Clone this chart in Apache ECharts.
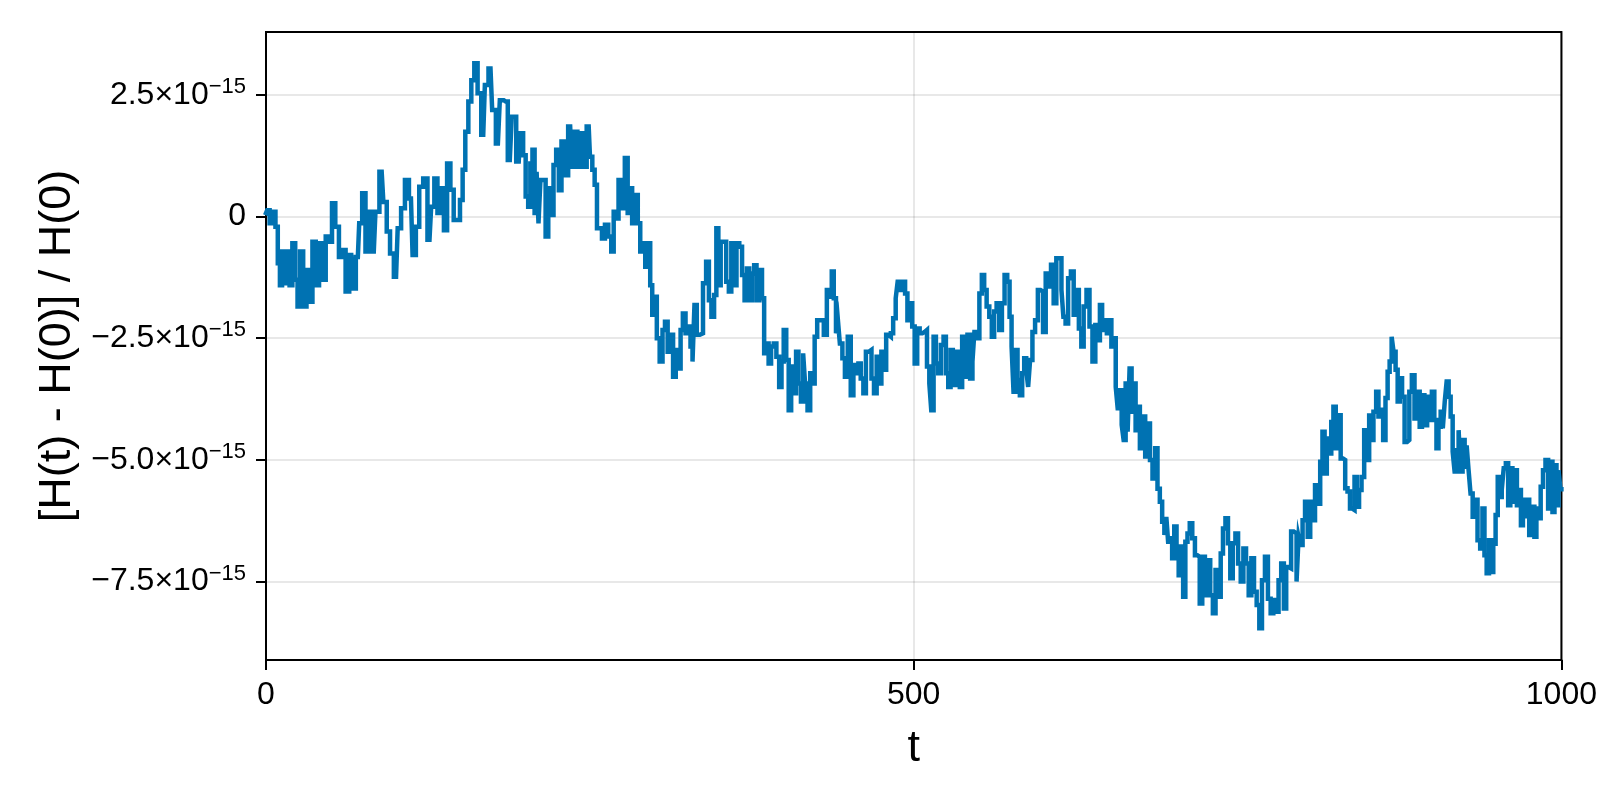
<!DOCTYPE html>
<html>
<head>
<meta charset="utf-8">
<title>Relative energy error</title>
<script src="https://cdn.jsdelivr.net/npm/echarts@6/dist/echarts.min.js"></script>
<style>
  html, body { margin: 0; padding: 0; background: #fff; }
  #chart { width: 1600px; height: 800px; }
</style>
</head>
<body>
<div id="chart"></div>
<script>
// time axis samples
const tValues = [
  0, 1.8, 3.8, 6.4, 8.2, 10, 11.5, 13.3, 15.1, 17.2, 19.2, 21.5, 23.6, 25.1, 27.4, 30, 32.5, 34.6, 37.1, 39.7,
  42.2, 44.8, 47.4, 49.9, 52, 55, 57.6, 60.2, 62.7, 65.8, 67.8, 70.9, 73, 75.5, 78.1, 80.1, 83.2, 85.8, 89.3, 91.9,
  94.5, 97, 100.4, 102.9, 105.7, 108.8, 111.9, 114.4, 117, 119.6, 123.1, 126.2, 128.8, 131.1, 133.6, 136.2, 138.5, 141.1, 143.6, 146.2,
  148.7, 150.8, 152.8, 154.9, 157.5, 159.5, 162.1, 164.6, 167.7, 170.2, 173.3, 175.9, 179, 182, 185.1, 188.2, 191.2, 195.1, 197.6,
  199.4, 201.5, 203.3, 204.8, 206.6, 208.1, 209.7, 211, 212.7, 214.8, 216.9, 218.9, 220.9, 223, 225, 227.1, 229.1, 231.7, 234.8, 237.3,
  239.4, 241.4, 243.7, 246, 249.1, 251.1, 252.7, 254.7, 256.3, 258.3, 260.4, 262.9, 265.5, 267.5, 269.3, 271.1, 273.2, 275.7, 278.3, 280.1,
  281.9, 283.4, 286, 288, 289.8, 291.9, 293.6, 295.7, 297.5, 298.8, 300.8, 302.6, 305.2, 307, 309, 311.1, 313.1, 315.4, 317.2, 319.3,
  320.8, 322.8, 324.9, 326.9, 328.5, 330, 331.5, 333.6, 336.2, 338.5, 341, 342.8, 344.9, 346.9, 348.4, 350, 352, 354.1, 356.4, 358.2,
  360.2, 362.3, 364.1, 366.6, 368.4, 370.5, 372, 374.1, 376.1, 377.6, 379.7, 382, 383.8, 385.3, 387.1, 388.9, 390.9, 393, 395, 397.3,
  398.6, 400.7, 402.5, 404.5, 406.3, 408.3, 410.1, 411.9, 414, 415.3, 417, 419.1, 421.1, 422.9, 424.2, 426.8, 429.3, 431.9, 434, 436,
  437.5, 439.1, 440.9, 442.1, 443.9, 446, 447.8, 450.4, 452.4, 454.5, 456.5, 458.1, 460.1, 462.2, 464, 466.5, 468.3, 470.4, 472.4, 474.2,
  475.9, 478, 479.5, 481.6, 483.1, 485.2, 487, 488.2, 490.3, 492.3, 494.4, 495.9, 498, 499.7, 501.8, 503.6, 505.6, 507.7, 509.2, 511.3,
  512.8, 514.3, 516.4, 517.9, 520, 522, 524.1, 525.6, 527.7, 529.2, 531.2, 533.3, 534.8, 536.4, 538.4, 540.5, 542.5, 544.6, 546.1, 547.6,
  549.7, 551.7, 553.5, 555.3, 557.3, 559.4, 561.2, 563, 565, 567.1, 569.1, 571.2, 573.2, 574.8, 576.3, 577.8, 579.4, 580.9, 583, 584.5,
  586.1, 587.6, 589.1, 590.6, 592.7, 594.7, 597,
  598.8, 600.9, 602.9, 605, 607, 609.1, 611.1, 613.2, 614.9, 616.2, 618.3, 620.1, 622.6, 624.4, 626.5, 628.5, 630.3, 632.1, 634.7, 636.7,
  639.3, 641.1, 643.1, 644.4, 646.5, 648.2, 650, 651.6, 653.6, 655.2, 656.7, 658.2, 659.8, 661.3, 662.8, 664.4, 665.9, 667.4, 669, 670.5,
  672.1, 673.6, 675.6, 677.7, 679.7, 681.5, 683.3, 685.4, 687.4, 689, 691, 692.6, 694.4, 695.6, 697.2, 698.7, 700.3, 702, 703.8, 705.3,
  707.1, 708.9, 710.5, 712.2, 714, 716.1, 718.1, 719.9, 721.7, 723.8, 725.8, 727.9, 729.9, 732, 734, 736.1, 737.9, 739.6, 741.7, 743.5,
  745.3, 747.3, 749.4, 751.4, 753.5, 755.5, 757.6, 759.6, 761.7, 763.7, 765.8, 767.8, 769.9, 772.4, 774.5, 776.6, 778.6, 780.6, 782.7, 784.7,
  786.8, 788.3, 790.3, 792.4, 794.4, 796.7,
  797.5, 799.3, 801.1, 803.1, 805.2, 807, 808.8, 810.8, 812.9, 814.7, 816.4, 818, 819.8, 821.6, 823.1, 824.9, 826.7, 828.7, 830.5, 832.3,
  833.9, 835.9, 837.7, 839.5, 841.1, 842.9, 844.7, 846.7, 848.8, 850.8, 852.4, 853.8, 856, 858, 859.5, 861.5, 863.3, 865.1, 866.6, 868.2,
  869.7, 871.2, 872.8, 874.4, 876.1, 877.9, 880, 881.7, 883.5, 885.6, 887.6, 889.7, 891.5, 893.2, 895.3, 897.4, 899.1, 900.9, 902.9, 904.2,
  906, 907.6, 909.3, 910.6, 912.2, 913.7, 915.3, 916.8, 918.3, 919.9, 921.4, 922.9, 924.5, 926.1, 927.6, 929.1, 930.6, 932.4, 934.2, 936.3,
  938.3, 939.8, 941.4, 943.2, 945, 946.5, 948.3, 950.1, 951.6, 953.2, 954.7, 956.2, 958, 959.8, 961.3, 963.1, 964.9, 966.4, 968, 969.5,
  971.1, 972.6, 974.1, 976.2, 978.5, 979.8, 981.6, 983.1, 984.9, 986.7, 988.7, 990.8, 992.3, 993.9, 995.4, 997, 998.5, 1000
];

// [H(t) - H(0)] / H(0), in units of 1e-15
const hRel = [
  0.07, 0.13, -0.14, 0.10, -0.21, -0.96, -1.41, -0.72, -1.37, -0.72, -1.41, -0.55, -1.30, -1.85, -0.72, -1.85, -1.10, -1.75, -0.52, -1.41,
  -0.55, -1.30, -0.41, -0.52, 0.27, -0.21, -0.83, -0.69, -1.54, -0.79, -1.48, -0.83, -0.14, 0.48, -0.72, 0.10, -0.72, 0.10, 0.92, 0.30,
  -0.31, -0.76, -1.24, -0.24, 0.17, 0.75, 0.37, -0.79, -0.21, 0.61, 0.78, -0.48, 0.20, 0.78, 0.07, 0.58, -0.28, 1.09, 0.55, -0.07,
  -0.07, 0.34, 0.96, 1.74, 2.36, 2.80, 3.15, 2.53, 1.68, 2.70, 3.04, 2.19, 1.50, 2.39, 2.36, 1.16, 2.05, 1.13, 1.71,
  1.26, 0.41, 0.20, 1.09, 1.37, 0.07, 0.92, -0.14, 0.75, 0.75, -0.41, 0.58, 0.03, 1.06, 1.37, 0.54, 1.54, 0.85, 1.85, 1.02,
  1.74, 1.02, 1.71, 1.02, 1.85, 1.23, 0.96, 0.65, -0.24, -0.24, -0.45, -0.17, -0.41, -0.72, 0.10, -0.04, 0.75, 0.17, 1.20, 0.07,
  0.58, -0.14, 0.44, -0.14, -0.72, -0.55, -1.03, -0.55, -1.41, -2.02, -1.65, -2.50, -2.98, -2.33, -2.16, -2.78, -2.43, -3.29, -2.74, -3.12,
  -2.33, -1.99, -2.40, -2.26, -2.67, -2.98, -1.82, -2.43, -2.40, -1.37, -0.93, -1.72, -2.06, -1.61, -0.24, -1.41, -0.52, -0.52, -1.34, -1.54,
  -0.55, -1.41, -0.55, -0.62, -1.20, -1.72, -1.07, -1.72, -1.17, -1.00, -1.72, -1.10, -1.68, -2.81, -2.61, -3.02, -2.67, -2.61, -2.88, -3.50,
  -2.98, -2.33, -2.95, -3.98, -3.08, -3.63, -2.78, -3.43, -3.80, -2.81, -3.43, -3.98, -3.22, -3.43, -2.47, -2.13, -2.13, -2.43, -1.51, -1.65,
  -1.13, -1.68, -2.40, -2.13, -2.61, -2.91, -3.29, -2.47, -3.67, -3.05, -3.22, -3.02, -3.33, -3.63, -2.78, -2.74, -3.33, -3.63, -2.88, -3.43,
  -2.78, -3.15, -2.43, -2.47, -2.40, -2.09, -1.68, -1.34, -1.51, -1.34, -1.58, -2.13, -1.78, -2.26, -3.02, -2.30, -2.40, -2.37, -2.33, -3.08,
  -3.43, -3.98, -2.47, -3.02, -3.22, -2.64, -2.47, -3.22, -3.50, -2.74, -3.46, -2.78, -3.29, -3.50, -2.47, -3.29, -2.43, -3.33, -2.98, -2.37,
  -2.50, -1.58, -1.20, -1.51, -1.85, -2.06, -2.47, -1.95, -1.78, -2.33, -1.78, -1.20, -1.34, -2.06, -2.67, -3.60, -2.74, -3.36, -3.67, -3.22,
  -2.91, -3.15, -3.50, -2.95, -2.37, -2.13, -1.51,
  -1.54, -2.37, -1.17, -1.44, -0.99, -1.78, -0.86, -0.86, -1.51, -2.06, -2.20, -1.27, -1.13, -2.02, -1.51, -2.30, -2.67, -1.85, -1.51, -2.26,
  -2.98, -2.23, -2.54, -1.82, -2.33, -2.13, -2.40, -2.13, -2.67, -2.50, -3.50, -3.94, -3.57, -4.28, -4.59, -3.43, -4.42, -3.12, -4.01, -3.43,
  -4.39, -3.91, -4.76, -4.11, -4.93, -4.25, -5.00, -5.38, -4.76, -5.59, -5.86, -6.27, -6.54, -6.17, -6.68, -6.61, -7.02, -6.37, -6.96, -7.37,
  -6.78, -7.81, -6.68, -6.51, -6.30, -6.61, -6.96, -6.99, -7.95, -6.99, -7.78, -7.06, -7.78, -8.15, -7.26, -7.81, -6.92, -6.41, -6.20, -6.71,
  -7.43, -6.71, -6.51, -7.13, -7.50, -6.82, -7.13, -7.78, -7.02, -7.71, -7.98, -8.46, -7.47, -6.99, -7.85, -8.15, -7.88, -8.12, -7.47, -7.13,
  -8.05, -7.20, -7.23, -6.47, -6.51, -7.50,
  -6.58, -6.75, -6.24, -5.86, -6.58, -5.86, -6.24, -5.52, -5.90, -5.04, -4.42, -5.28, -4.56, -4.87, -4.22, -3.91, -4.76, -4.08, -4.97, -5.00,
  -5.58, -5.65, -6.00, -6.03, -5.35, -5.96, -5.62, -5.35, -4.39, -5.00, -4.04, -4.59, -4.01, -3.60, -4.11, -3.97, -4.59, -3.73, -3.19, -2.98,
  -2.47, -2.78, -3.15, -3.80, -3.32, -3.70, -4.63, -4.59, -3.60, -3.26, -4.15, -3.60, -4.32, -3.67, -4.29, -3.70, -4.18, -3.60, -4.18, -4.76,
  -4.32, -4.01, -4.35, -3.80, -3.39, -3.70, -4.11, -4.83, -5.24, -4.80, -4.39, -5.24, -4.59, -5.14, -4.70, -5.21, -5.69, -6.17, -5.82, -6.65,
  -6.82, -6.00, -6.96, -7.33, -6.65, -7.30, -6.72, -6.13, -5.35, -5.76, -5.62, -5.17, -5.07, -5.93, -5.17, -5.86, -5.21, -5.93, -5.62, -6.34,
  -5.82, -6.20, -5.82, -6.54, -5.96, -6.58, -6.00, -6.20, -5.55, -5.21, -5.00, -6.00, -5.04, -6.07, -5.11, -5.93, -5.21, -5.60
];

const xTicks = [0, 500, 1000];
const yTicks = [-7.5, -5, -2.5, 0, 2.5];
const xRange = [0, 1000];
const yRange = [-9.11, 3.79];

const FONT = "'Liberation Sans', Arial, sans-serif";
const LINE_COLOR = "#0072b2";
const GRID_COLOR = "rgba(0,0,0,0.12)";

function yTickLabel(value) {
  if (Math.abs(value) < 1e-9) return "{m|0}";
  const sign = value < 0 ? "\u2212" : "";
  return `{m|${sign}${Math.abs(value).toFixed(1)}\u00d710}{e|\u221215}`;
}

const chart = echarts.init(document.getElementById("chart"), null, { renderer: "canvas" });

chart.setOption({
  animation: false,
  backgroundColor: "#ffffff",
  textStyle: { fontFamily: FONT },
  grid: {
    left: 266, right: 32, top: 32, bottom: 140,
    show: true, borderColor: "#000", borderWidth: 2, backgroundColor: "transparent"
  },
  xAxis: {
    type: "value",
    min: xRange[0], max: xRange[1], interval: 500,
    name: "t",
    nameLocation: "middle",
    nameGap: 66,
    nameTextStyle: { fontSize: 45, color: "#000", fontFamily: FONT },
    axisLine: { show: true, onZero: false, lineStyle: { color: "#000", width: 2 } },
    axisTick: { show: true, inside: false, length: 10, lineStyle: { color: "#000", width: 2 } },
    axisLabel: {
      fontSize: 32, color: "#000", fontFamily: FONT, margin: 19,
      showMinLabel: true, showMaxLabel: true,
      formatter: (v) => (xTicks.includes(v) ? String(v) : "")
    },
    splitLine: { show: true, lineStyle: { color: GRID_COLOR, width: 1.5 } }
  },
  yAxis: {
    type: "value",
    min: yRange[0], max: yRange[1],
    name: "[H(t) - H(0)] / H(0)",
    nameLocation: "middle",
    nameRotate: 90,
    nameGap: 184,
    nameTextStyle: { fontSize: 45, color: "#000", fontFamily: FONT },
    axisLine: { show: true, onZero: false, lineStyle: { color: "#000", width: 2 } },
    axisTick: { show: true, inside: false, length: 10, customValues: yTicks, lineStyle: { color: "#000", width: 2 } },
    axisLabel: {
      customValues: yTicks,
      margin: 20,
      formatter: yTickLabel,
      rich: {
        m: { fontSize: 32, lineHeight: 38, color: "#000", fontFamily: FONT },
        e: { fontSize: 22, lineHeight: 21, color: "#000", fontFamily: FONT, verticalAlign: "top" }
      }
    },
    splitLine: { show: true, lineStyle: { color: GRID_COLOR, width: 1.5 } }
  },
  series: [
    {
      type: "line",
      data: tValues.map((t, i) => [t, hRel[i]]),
      step: "middle",
      showSymbol: false,
      symbol: "none",
      sampling: null,
      lineStyle: { color: LINE_COLOR, width: 4.5, join: "miter", cap: "square" },
      emphasis: { disabled: true },
      z: 3
    }
  ]
});

window.addEventListener("resize", () => chart.resize());
</script>
</body>
</html>
